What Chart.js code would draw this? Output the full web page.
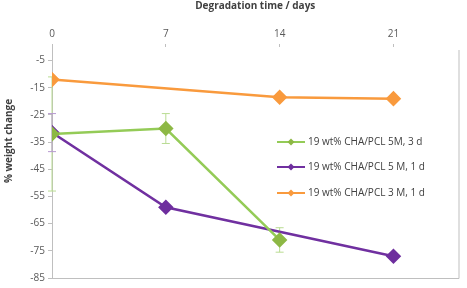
<!DOCTYPE html>
<html>
<head>
<meta charset="utf-8">
<script src="https://cdn.jsdelivr.net/npm/chart.js@4"></script>
<style>
  html, body { margin: 0; padding: 0; background: #fff; }
  #wrap { width: 467px; height: 288px; }
</style>
</head>
<body>
<div id="wrap"><canvas id="degChart"></canvas></div>
<script>
// data
const xTicks = [0, 7, 14, 21];
const yTicks = [-85, -75, -65, -55, -45, -35, -25, -15, -5];

const greenDays = [0, 7, 14];
const greenVals = [-32, -30, -71];
const greenErr = [21, 5.5, 4.5];

const purpleDays = [0, 7, 21];
const purpleVals = [-31.5, -59, -77];
const purpleErr = [7, 0, 0];

const orangeDays = [0, 14, 21];
const orangeVals = [-12, -18.5, -19];
const orangeErr = [0, 0, 0];

const labels = [
  "19 wt% CHA/PCL 5M, 3 d",
  "19 wt% CHA/PCL 5 M, 1 d",
  "19 wt% CHA/PCL 3 M, 1 d"
];

const pts = (xs, ys) => xs.map((x, i) => ({ x: x, y: ys[i] }));

function series(label, xs, ys, err, line, mark, errColor) {
  return {
    label: label,
    data: pts(xs, ys),
    err: err,
    errColor: errColor,
    borderColor: line,
    backgroundColor: mark,
    pointBackgroundColor: mark,
    pointBorderColor: mark,
    borderWidth: 2.5,
    pointStyle: "rectRot",
    pointRadius: 6,
    tension: 0,
    showLine: true
  };
}

// error bars
const errorBars = {
  id: "errorBars",
  beforeDatasetsDraw(chart) {
    const c = chart.ctx;
    const x = chart.scales.x, y = chart.scales.y;
    chart.data.datasets.forEach(ds => {
      ds.data.forEach((p, i) => {
        const e = ds.err[i];
        if (!e) return;
        const px = x.getPixelForValue(p.x);
        const top = y.getPixelForValue(p.y + e);
        const bot = y.getPixelForValue(p.y - e);
        c.save();
        c.strokeStyle = ds.errColor;
        c.lineWidth = 1;
        c.beginPath();
        c.moveTo(px, top); c.lineTo(px, bot);
        c.moveTo(px - 4, top); c.lineTo(px + 4, top);
        c.moveTo(px - 4, bot); c.lineTo(px + 4, bot);
        c.stroke();
        c.restore();
      });
    });
  }
};

// legend inside the plot, frame on right/bottom, y title
const innerLegend = {
  id: "innerLegend",
  afterDraw(chart) {
    const c = chart.ctx;
    const a = chart.chartArea;
    c.save();
    c.strokeStyle = "#bfbfbf";
    c.lineWidth = 1;
    c.beginPath();
    c.moveTo(a.left, a.bottom + 0.5); c.lineTo(a.right + 0.5, a.bottom + 0.5);
    c.lineTo(a.right + 0.5, a.top + 3);
    c.stroke();

    // y axis title
    c.save();
    c.translate(9, 141);
    c.rotate(-Math.PI / 2);
    c.font = "bold 10px 'Open Sans'";
    c.fillStyle = "#404040";
    c.textAlign = "center";
    c.textBaseline = "middle";
    c.fillText("% weight change", 0, 0);
    c.restore();

    const rows = [142, 167, 193];
    c.font = "10px 'Open Sans'";
    c.textBaseline = "middle";
    chart.data.datasets.forEach((ds, i) => {
      const yy = rows[i];
      c.strokeStyle = ds.borderColor;
      c.lineWidth = 2;
      c.beginPath();
      c.moveTo(277, yy); c.lineTo(305, yy);
      c.stroke();
      c.fillStyle = ds.pointBackgroundColor;
      c.beginPath();
      c.moveTo(291, yy - 3.5); c.lineTo(294.5, yy); c.lineTo(291, yy + 3.5); c.lineTo(287.5, yy);
      c.closePath();
      c.fill();
      c.fillStyle = "#404040";
      c.fillText(ds.label, 308, yy);
    });
    c.restore();
  }
};

const tickFont = { family: "'Open Sans'", size: 10 };

new Chart(document.getElementById("degChart"), {
  type: "scatter",
  data: {
    datasets: [
      series(labels[0], greenDays, greenVals, greenErr, "#94CB57", "#8DB845", "#b9dc92"),
      series(labels[1], purpleDays, purpleVals, purpleErr, "#7030A0", "#6E2E9E", "#b79ad0"),
      series(labels[2], orangeDays, orangeVals, orangeErr, "#F99A3D", "#F99A3D", "#fbc28a")
    ]
  },
  options: {
    responsive: true,
    maintainAspectRatio: false,
    animation: false,
    layout: { padding: { left: 0, right: -3, top: 0, bottom: 10 } },
    plugins: {
      legend: { display: false },
      tooltip: { enabled: false }
    },
    scales: {
      x: {
        type: "linear",
        position: "top",
        min: 0,
        max: 25,
        afterBuildTicks: s => { s.ticks = xTicks.map(v => ({ value: v })); },
        afterFit: s => { s.height = 47; s.paddingLeft = 0; s.paddingRight = 0; },
        grid: { drawOnChartArea: false, drawTicks: true, tickLength: 3, color: "#bfbfbf" },
        border: { display: false },
        ticks: { color: "#595959", font: tickFont, padding: 4 },
        title: {
          display: true,
          text: "Degradation time / days",
          color: "#404040",
          font: { family: "'Open Sans'", size: 10, weight: "bold" },
          padding: { top: 0, bottom: 8 }
        }
      },
      y: {
        min: -85,
        max: 0,
        afterBuildTicks: s => { s.ticks = yTicks.map(v => ({ value: v })); },
        afterFit: s => { s.width = 52; },
        grid: { drawOnChartArea: false, tickLength: 4, color: "#bfbfbf" },
        border: { display: true, color: "#bfbfbf" },
        ticks: { color: "#595959", font: tickFont, padding: 3 }
      }
    }
  },
  plugins: [errorBars, innerLegend]
});
</script>
</body>
</html>
